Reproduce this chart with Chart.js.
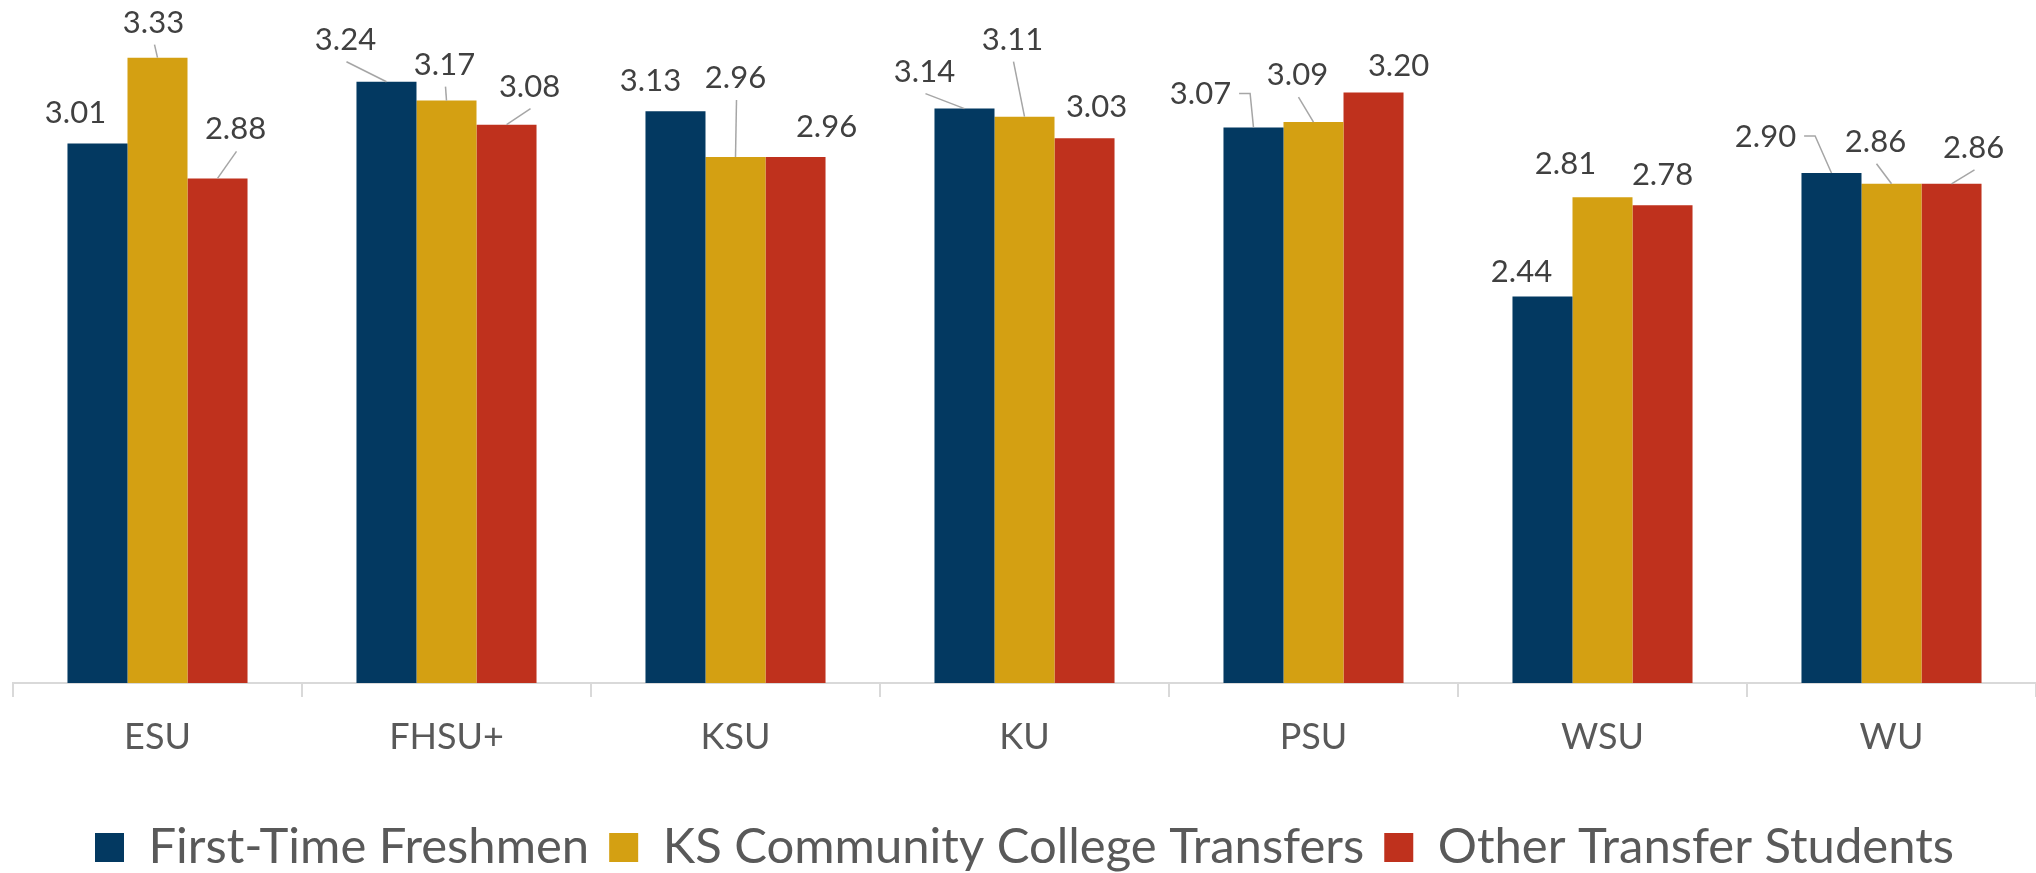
<!DOCTYPE html>
<html>
<head>
<meta charset="utf-8">
<script src="https://cdn.jsdelivr.net/npm/chart.js@4/dist/chart.umd.min.js"></script>
<style>
  html, body { margin: 0; padding: 0; background: #ffffff; }
  #wrap { width: 2036px; height: 873px; position: relative; }
</style>
</head>
<body>
<div id="wrap"><canvas id="c" width="2036" height="873"></canvas></div>
<script>
// ---- Data ----
const categories = ["ESU", "FHSU+", "KSU", "KU", "PSU", "WSU", "WU"];
const seriesNames = ["First-Time Freshmen", "KS Community College Transfers", "Other Transfer Students"];
const firstTimeFreshmen = [3.01, 3.24, 3.13, 3.14, 3.07, 2.44, 2.90];
const ksCommunityCollegeTransfers = [3.33, 3.17, 2.96, 3.11, 3.09, 2.81, 2.86];
const otherTransferStudents = [2.88, 3.08, 2.96, 3.03, 3.20, 2.78, 2.86];

// ---- Label placement (layout only): offsets from bar top-centre, leader type ----
// leader: 0 none, 1 line from below label, 2 elbow from label's right side
const labelLayout = [
  { dx: [-22, -41, -25, -40, -53, -21, -66], dy: [-31, -42, -30, -37, -33, -25, -36], leader: [0, 1, 0, 1, 2, 0, 2] },
  { dx: [-4, -2, 0, -12, -16, -37, -16],     dy: [-35, -36, -79, -77, -47, -33, -42], leader: [1, 1, 1, 1, 1, 0, 1] },
  { dx: [18, 23, 31, 12, 25, 0, 22],         dy: [-49, -38, -30, -31, -27, -30, -36], leader: [1, 1, 0, 0, 0, 0, 1] }
];

const colors = ["#033961", "#d4a012", "#bf311d"];
const FONT = "Lato, 'Open Sans', sans-serif";

const labelPlugin = {
  id: 'excelLabels',
  afterDatasetsDraw(chart) {
    const ctx = chart.ctx;
    ctx.save();
    ctx.font = "31px " + FONT;
    ctx.textAlign = 'center';
    ctx.textBaseline = 'middle';
    chart.data.datasets.forEach((ds, i) => {
      const meta = chart.getDatasetMeta(i);
      const lay = labelLayout[i];
      meta.data.forEach((bar, j) => {
        const bx = bar.x, by = bar.y;
        const lx = bx + lay.dx[j], ly = by + lay.dy[j];
        const txt = ds.data[j].toFixed(2);
        ctx.strokeStyle = '#a6a6a6';
        ctx.lineWidth = 1.5;
        if (lay.leader[j] === 1) {
          ctx.beginPath();
          ctx.moveTo(lx + 1, ly + 22);
          ctx.lineTo(bx, by);
          ctx.stroke();
        } else if (lay.leader[j] === 2) {
          const w = ctx.measureText(txt).width;
          const sx = lx + w / 2 + 8;
          ctx.beginPath();
          ctx.moveTo(sx, ly - 1);
          ctx.lineTo(sx + 11, ly - 1);
          ctx.lineTo(bx, by);
          ctx.stroke();
        }
        ctx.fillStyle = '#404040';
        ctx.fillText(txt, lx, ly);
      });
    });
    ctx.restore();
  }
};

const seriesValues = [firstTimeFreshmen, ksCommunityCollegeTransfers, otherTransferStudents];

new Chart(document.getElementById('c'), {
  type: 'bar',
  data: {
    labels: categories,
    datasets: seriesNames.map((name, i) => ({
      label: name,
      data: seriesValues[i],
      backgroundColor: colors[i],
      borderWidth: 0,
      categoryPercentage: 0.623,
      barPercentage: 1.0
    }))
  },
  options: {
    responsive: false,
    animation: false,
    devicePixelRatio: 1,
    layout: { padding: { top: 12, left: 13, right: 0, bottom: -9 } },
    scales: {
      y: { display: false, min: 1, max: 3.5 },
      x: {
        afterFit(scale) { scale.height = 120; },
        border: { display: true, color: '#d9d9d9', width: 2 },
        grid: { offset: true, drawOnChartArea: false, drawTicks: true, tickLength: 14, color: '#d9d9d9', lineWidth: 2 },
        ticks: { color: '#595959', font: { family: FONT, size: 36 }, padding: 19 }
      }
    },
    plugins: {
      legend: {
        position: 'bottom',
        labels: {
          color: '#595959',
          font: { family: FONT, size: 49 },
          boxWidth: 29, boxHeight: 29,
          padding: 20
        }
      },
      tooltip: { enabled: false }
    }
  },
  plugins: [labelPlugin]
});
</script>
</body>
</html>
